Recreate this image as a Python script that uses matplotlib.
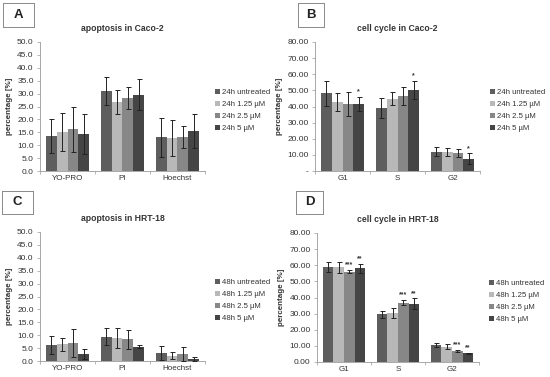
import matplotlib.pyplot as plt
import numpy as np

# treatment series (same order in every panel)
series_24 = ['24h untreated', '24h 1.25 µM', '24h 2.5 µM', '24h 5 µM']
series_48 = ['48h untreated', '48h 1.25 µM', '48h 2.5 µM', '48h 5 µM']
colors = ['#5e5e5e', '#b8b8b8', '#878787', '#454545']

apo_cats = ['YO-PRO', 'PI', 'Hoechst']
cc_cats = ['G1', 'S', 'G2']

# A: apoptosis in Caco-2 (rows = series, cols = categories)
apo_caco = [[13.5, 31.0, 13.0],
            [15.1, 26.7, 12.8],
            [16.1, 28.2, 13.3],
            [14.4, 29.6, 15.4]]
apo_caco_err = [[6.6, 5.5, 7.5],
                [7.5, 4.8, 7.0],
                [8.6, 4.3, 4.3],
                [7.7, 6.0, 6.5]]

# B: cell cycle in Caco-2
cc_caco = [[48.1, 39.2, 12.0],
           [42.9, 44.8, 11.6],
           [41.5, 46.5, 11.3],
           [41.5, 50.2, 7.6]]
cc_caco_err = [[8.0, 6.2, 2.7],
               [5.7, 3.9, 2.5],
               [7.3, 5.4, 2.5],
               [4.4, 5.8, 3.3]]
cc_caco_sig = [['', '', ''], ['', '', ''], ['', '', ''], ['*', '*', '*']]

# C: apoptosis in HRT-18
apo_hrt = [[6.3, 9.4, 3.0],
           [6.4, 8.8, 2.1],
           [7.1, 8.4, 2.7],
           [2.8, 5.6, 0.8]]
apo_hrt_err = [[3.5, 3.3, 2.7],
               [2.6, 3.9, 1.2],
               [5.4, 3.8, 2.6],
               [2.0, 0.7, 0.8]]

# D: cell cycle in HRT-18
cc_hrt = [[59.0, 29.5, 10.7],
          [58.8, 30.6, 9.5],
          [55.9, 36.8, 6.8],
          [58.0, 36.2, 5.4]]
cc_hrt_err = [[3.0, 2.4, 1.1],
              [3.3, 3.1, 1.5],
              [1.0, 1.7, 0.9],
              [2.8, 3.3, 0.4]]
cc_hrt_sig = [['', '', ''], ['', '', ''], ['***', '***', '***'], ['**', '**', '**']]

plt.rcParams['font.family'] = ['Liberation Sans', 'DejaVu Sans']
text_c = '#333333'
spine_c = '#9a9a9a'

fig = plt.figure(figsize=(5.5, 3.77), dpi=100)

W, H = 550.0, 377.0


def px_axes(l, t, r, b):
    return fig.add_axes([l / W, 1 - b / H, (r - l) / W, (b - t) / H])


def draw_panel(ax, cats, vals, errs, labels, title, ymax, ystep, fmt, zero_dash=False, sig=None):
    x = np.arange(len(cats))
    width = 0.195
    for i in range(len(vals)):
        pos = x + (i - 1.5) * width
        ax.bar(pos, vals[i], width, color=colors[i], label=labels[i], zorder=2)
        ax.errorbar(pos, vals[i], yerr=errs[i], fmt='none', ecolor='#222222',
                    elinewidth=0.7, capsize=1.8, capthick=0.7, zorder=3)
        if sig is not None:
            for j in range(len(cats)):
                if sig[i][j]:
                    ax.text(pos[j], vals[i][j] + errs[i][j] + ymax * 0.012, sig[i][j],
                            ha='center', va='bottom', fontsize=5, color=text_c, fontweight='bold')
    ax.set_xlim(-0.5, len(cats) - 0.5)
    ax.set_ylim(0, ymax)
    ticks = np.arange(0, ymax + ystep / 2, ystep)
    ax.set_yticks(ticks)
    tl = [fmt.format(t) for t in ticks]
    if zero_dash:
        tl[0] = '-'
    ax.set_yticklabels(tl)
    ax.set_xticks(x)
    ax.set_xticklabels(cats)
    ax.set_xticks(np.arange(-0.5, len(cats)), minor=True)
    ax.tick_params(axis='x', which='major', length=0, labelsize=5.8, colors=text_c, pad=3)
    ax.tick_params(axis='x', which='minor', length=2.5, width=0.5, color=spine_c)
    ax.tick_params(axis='y', length=2.5, width=0.5, color=spine_c, labelsize=6,
                   labelcolor=text_c, pad=2)
    for s in ['top', 'right']:
        ax.spines[s].set_visible(False)
    for s in ['left', 'bottom']:
        ax.spines[s].set_color(spine_c)
        ax.spines[s].set_linewidth(0.6)
    ax.set_title(title, fontsize=6.2, fontweight='bold', color=text_c, pad=8)
    ax.set_ylabel('percentage [%]', fontsize=5.8, fontweight='bold', color=text_c, labelpad=3)
    ax.legend(loc='center left', bbox_to_anchor=(1.02, 0.47), frameon=False, fontsize=5.6,
              handlelength=0.6, handleheight=0.6, handletextpad=0.3, labelspacing=0.62,
              labelcolor=text_c)


def panel_box(l, t, r, b, letter):
    box = fig.add_axes([l / W, 1 - b / H, (r - l) / W, (b - t) / H])
    box.set_xticks([])
    box.set_yticks([])
    for s in box.spines.values():
        s.set_color('#8a8a8a')
        s.set_linewidth(0.7)
    box.text(0.5, 0.5, letter, ha='center', va='center', fontsize=9.5,
             fontweight='bold', color='#222222', transform=box.transAxes)


axA = px_axes(40, 42, 205, 171)
draw_panel(axA, apo_cats, apo_caco, apo_caco_err, series_24, 'apoptosis in Caco-2', 50, 5, '{:.1f}')

axB = px_axes(315, 42, 480, 171)
draw_panel(axB, cc_cats, cc_caco, cc_caco_err, series_24, 'cell cycle in Caco-2', 80, 10, '{:.2f}',
           zero_dash=True, sig=cc_caco_sig)

axC = px_axes(40, 232, 205, 361)
draw_panel(axC, apo_cats, apo_hrt, apo_hrt_err, series_48, 'apoptosis in HRT-18', 50, 5, '{:.1f}')

axD = px_axes(317, 233, 479, 362)
draw_panel(axD, cc_cats, cc_hrt, cc_hrt_err, series_48, 'cell cycle in HRT-18', 80, 10, '{:.2f}',
           sig=cc_hrt_sig)

panel_box(3, 3, 34, 27, 'A')
panel_box(298, 3, 324, 27, 'B')
panel_box(2, 191, 33, 214, 'C')
panel_box(296, 191, 323, 214, 'D')

fig.savefig('out.png', dpi=100)
